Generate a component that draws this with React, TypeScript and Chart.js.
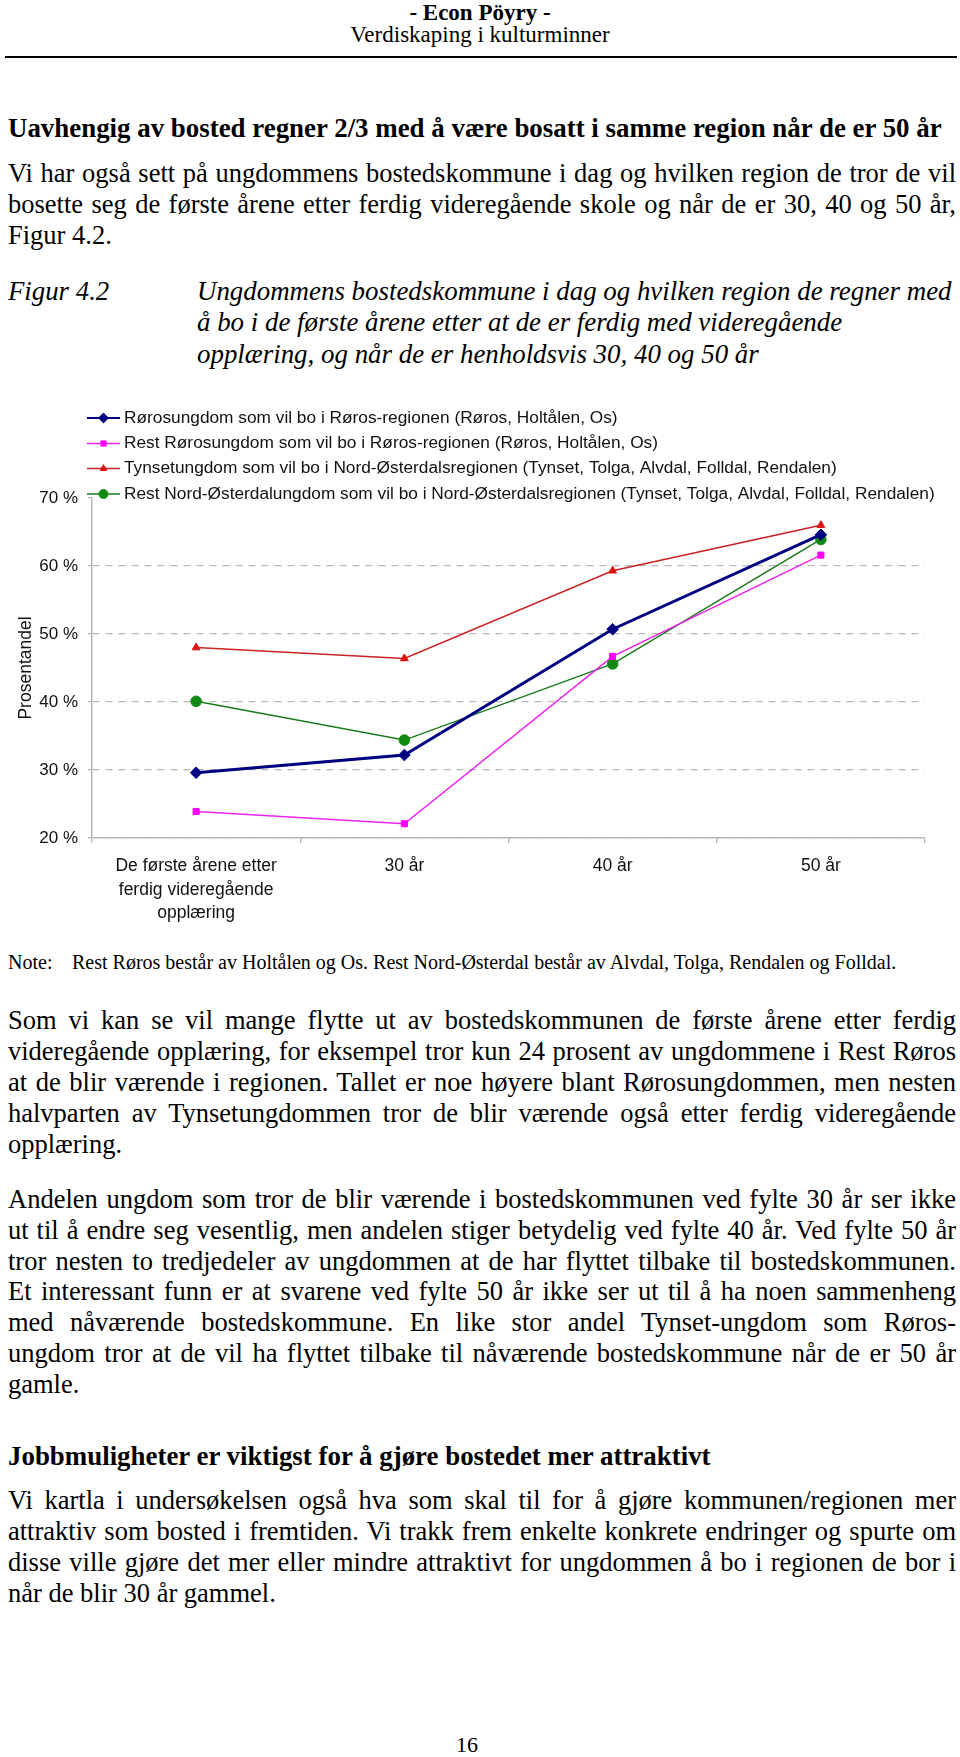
import React, { useEffect, useRef } from 'react';
import { Chart, registerables } from 'chart.js';
import { drawPoint } from 'chart.js/helpers';

Chart.register(...registerables);

// ---------- data ----------
const categories: (string | string[])[] = [
  ['De første årene etter', 'ferdig videregående', 'opplæring'],
  '30 år',
  '40 år',
  '50 år',
];
const seriesLabels = [
  'Rørosungdom som vil bo i Røros-regionen (Røros, Holtålen, Os)',
  'Rest Rørosungdom som vil bo i Røros-regionen (Røros, Holtålen, Os)',
  'Tynsetungdom som vil bo i Nord-Østerdalsregionen (Tynset, Tolga, Alvdal, Folldal, Rendalen)',
  'Rest Nord-Østerdalungdom som vil bo i Nord-Østerdalsregionen (Tynset, Tolga, Alvdal, Folldal, Rendalen)',
];
const rorosValues = [29.6, 32.2, 50.7, 64.6];
const restRorosValues = [23.9, 22.1, 46.7, 61.6];
const tynsetValues = [48.0, 46.4, 59.3, 66.0];
const restNordValues = [40.1, 34.4, 45.6, 63.9];
const yMin = 20;
const yMax = 70;
const yStep = 10;
const yAxisTitle = 'Prosentandel';

const SANS = '"Liberation Sans", Arial, Helvetica, sans-serif';
const SERIF = '"Liberation Serif", "Times New Roman", Times, serif';

const CANVAS_TOP = 390;
const LEGEND_Y = [418, 443.5, 468.5, 494].map((v) => v - CANVAS_TOP);

const legendPlugin = {
  id: 'lineLegend',
  afterDraw(chart: any) {
    const ctx = chart.ctx as CanvasRenderingContext2D;
    ctx.save();
    chart.data.datasets.forEach((ds: any, i: number) => {
      const y = LEGEND_Y[i];
      ctx.strokeStyle = ds.borderColor;
      ctx.lineWidth = Math.min(ds.borderWidth, 2.2);
      ctx.beginPath();
      ctx.moveTo(87, y);
      ctx.lineTo(120, y);
      ctx.stroke();
      ctx.fillStyle = ds.pointBackgroundColor;
      ctx.strokeStyle = ds.pointBorderColor;
      ctx.lineWidth = 1;
      drawPoint(
        ctx,
        { pointStyle: ds.pointStyle, radius: ds.pointRadius * 0.85, rotation: 0, borderWidth: 1 } as any,
        103.5,
        y
      );
      ctx.fillStyle = '#111';
      ctx.font = `17.3px ${SANS}`;
      ctx.textBaseline = 'middle';
      ctx.textAlign = 'left';
      ctx.fillText(ds.label, 124, y);
    });
    ctx.restore();
  },
};

function LineChart() {
  const ref = useRef<HTMLCanvasElement | null>(null);
  useEffect(() => {
    if (!ref.current) return;
    const gridGray = '#b8b8b8';
    const chart = new Chart(ref.current, {
      type: 'line',
      data: {
        labels: categories as any,
        datasets: [
          {
            label: seriesLabels[0],
            data: rorosValues,
            borderColor: '#000080',
            backgroundColor: '#000080',
            borderWidth: 3,
            pointStyle: 'rectRot',
            pointRadius: 5.8,
            pointBackgroundColor: '#000080',
            pointBorderColor: '#000080',
            pointBorderWidth: 1,
          },
          {
            label: seriesLabels[1],
            data: restRorosValues,
            borderColor: '#ee22ee',
            backgroundColor: '#ff00ff',
            borderWidth: 1.5,
            pointStyle: 'rect',
            pointRadius: 4.3,
            pointBackgroundColor: '#ff00ff',
            pointBorderColor: '#ff00ff',
            pointBorderWidth: 1,
          },
          {
            label: seriesLabels[2],
            data: tynsetValues,
            borderColor: '#cc2222',
            backgroundColor: '#e01010',
            borderWidth: 1.5,
            pointStyle: 'triangle',
            pointRadius: 4.5,
            pointBackgroundColor: '#e01010',
            pointBorderColor: '#e01010',
            pointBorderWidth: 1,
          },
          {
            label: seriesLabels[3],
            data: restNordValues,
            borderColor: '#1a7a1a',
            backgroundColor: '#128a12',
            borderWidth: 1.5,
            pointStyle: 'circle',
            pointRadius: 5.3,
            pointBackgroundColor: '#128a12',
            pointBorderColor: '#128a12',
            pointBorderWidth: 1,
          },
        ],
      },
      options: {
        animation: false,
        responsive: false,
        maintainAspectRatio: false,
        layout: { padding: { top: 108, right: 35, left: 0, bottom: 0 } },
        plugins: {
          legend: { display: false },
          title: { display: false },
          tooltip: { enabled: false },
        },
        scales: {
          x: {
            type: 'category',
            offset: true,
            grid: {
              offset: true,
              drawOnChartArea: false,
              drawTicks: true,
              tickLength: 5,
              color: gridGray,
              tickColor: gridGray,
              lineWidth: 1.3,
            },
            border: { color: gridGray, width: 1.5 },
            ticks: {
              color: '#111',
              font: { family: SANS, size: 17.5, lineHeight: 1.33 },
              padding: 12,
              maxRotation: 0,
              minRotation: 0,
              autoSkip: false,
            },
            afterFit: (s: any) => {
              s.height = 112;
            },
          },
          y: {
            min: yMin,
            max: yMax,
            ticks: {
              stepSize: yStep,
              callback: (v: any) => `${v} %`,
              padding: 10,
              color: '#111',
              font: { family: SANS, size: 17 },
            },
            grid: {
              color: (c: any) => (c.tick && c.tick.value === yMax ? 'rgba(0,0,0,0)' : gridGray),
              tickColor: gridGray,
              tickLength: 4,
              lineWidth: 1.3,
            },
            border: { color: gridGray, width: 1.5, dash: [7, 6] },
            title: {
              display: true,
              text: yAxisTitle,
              color: '#111',
              font: { family: SANS, size: 17.5, lineHeight: 1.2 },
              padding: { top: 16, bottom: 0 },
            },
            afterFit: (s: any) => {
              s.width = 92;
            },
          },
        },
      },
      plugins: [legendPlugin],
    });
    return () => chart.destroy();
  }, []);
  return (
    <canvas
      ref={ref}
      width={960}
      height={560}
      style={{ position: 'absolute', left: 0, top: CANVAS_TOP, width: 960, height: 560 }}
    />
  );
}

type LineProps = {
  y: number;
  x?: number;
  w?: number;
  size?: number;
  lh?: number;
  bold?: boolean;
  italic?: boolean;
  justify?: boolean;
  center?: boolean;
  children: React.ReactNode;
};

function L({ y, x = 8, w = 948, size = 26.5, lh = 31, bold, italic, justify, center, children }: LineProps) {
  return (
    <div
      style={{
        position: 'absolute',
        left: x,
        top: y - lh / 2,
        width: w,
        height: lh,
        lineHeight: `${lh}px`,
        fontSize: size,
        fontFamily: SERIF,
        fontWeight: bold ? 'bold' : 'normal',
        fontStyle: italic ? 'italic' : 'normal',
        textAlign: center ? 'center' : justify ? 'justify' : 'left',
        textAlignLast: center ? 'center' : justify ? 'justify' : 'left',
        whiteSpace: justify ? 'normal' : 'nowrap',
        color: '#000',
        overflow: 'visible',
      }}
    >
      {children}
    </div>
  );
}

export default function App() {
  useEffect(() => {
    document.body.style.margin = '0';
  }, []);
  return (
    <div style={{ position: 'absolute', left: 0, top: 0, width: 960, height: 1757, background: '#fff', overflow: 'hidden' }}>
      <L y={13} x={0} w={960} size={23} lh={24} bold center>- Econ Pöyry -</L>
      <L y={35} x={0} w={960} size={23} lh={24} center>Verdiskaping i kulturminner</L>
      <div style={{ position: 'absolute', left: 5, top: 55.5, width: 952, height: 2, background: '#000' }} />

      <L y={128} size={26.9} bold>Uavhengig av bosted regner 2/3 med å være bosatt i samme region når de er 50 år</L>
      <L y={173} justify>Vi har også sett på ungdommens bostedskommune i dag og hvilken region de tror de vil</L>
      <L y={204.5} justify>bosette seg de første årene etter ferdig videregående skole og når de er 30, 40 og 50 år,</L>
      <L y={235.5}>Figur 4.2.</L>

      <L y={291} italic size={26.8}>Figur 4.2</L>
      <L y={291} x={197} w={760} italic size={26.9}>Ungdommens bostedskommune i dag og hvilken region de regner med</L>
      <L y={322} x={197} w={760} italic size={26.9}>å bo i de første årene etter at de er ferdig med videregående</L>
      <L y={354} x={197} w={760} italic size={26.9}>opplæring, og når de er henholdsvis 30, 40 og 50 år</L>

      <LineChart />

      <L y={962} size={20} lh={24}>Note:</L>
      <L y={962} x={72} w={880} size={20} lh={24}>Rest Røros består av Holtålen og Os. Rest Nord-Østerdal består av Alvdal, Tolga, Rendalen og Folldal.</L>

      <L y={1020.5} justify>Som vi kan se vil mange flytte ut av bostedskommunen de første årene etter ferdig</L>
      <L y={1051} justify>videregående opplæring, for eksempel tror kun 24 prosent av ungdommene i Rest Røros</L>
      <L y={1082.5} justify>at de blir værende i regionen. Tallet er noe høyere blant Rørosungdommen, men nesten</L>
      <L y={1113.5} justify>halvparten av Tynsetungdommen tror de blir værende også etter ferdig videregående</L>
      <L y={1144}>opplæring.</L>

      <L y={1199.5} justify>Andelen ungdom som tror de blir værende i bostedskommunen ved fylte 30 år ser ikke</L>
      <L y={1230.3} justify>ut til å endre seg vesentlig, men andelen stiger betydelig ved fylte 40 år. Ved fylte 50 år</L>
      <L y={1261} justify>tror nesten to tredjedeler av ungdommen at de har flyttet tilbake til bostedskommunen.</L>
      <L y={1291.6} justify>Et interessant funn er at svarene ved fylte 50 år ikke ser ut til å ha noen sammenheng</L>
      <L y={1322.3} justify>med nåværende bostedskommune. En like stor andel Tynset-ungdom som Røros-</L>
      <L y={1353.3} justify>ungdom tror at de vil ha flyttet tilbake til nåværende bostedskommune når de er 50 år</L>
      <L y={1384.6}>gamle.</L>

      <L y={1456.5} size={26.9} bold>Jobbmuligheter er viktigst for å gjøre bostedet mer attraktivt</L>
      <L y={1500} justify>Vi kartla i undersøkelsen også hva som skal til for å gjøre kommunen/regionen mer</L>
      <L y={1531} justify>attraktiv som bosted i fremtiden. Vi trakk frem enkelte konkrete endringer og spurte om</L>
      <L y={1562} justify>disse ville gjøre det mer eller mindre attraktivt for ungdommen å bo i regionen de bor i</L>
      <L y={1593}>når de blir 30 år gammel.</L>

      <L y={1745} x={417} w={100} size={22} lh={24} center>16</L>
    </div>
  );
}
